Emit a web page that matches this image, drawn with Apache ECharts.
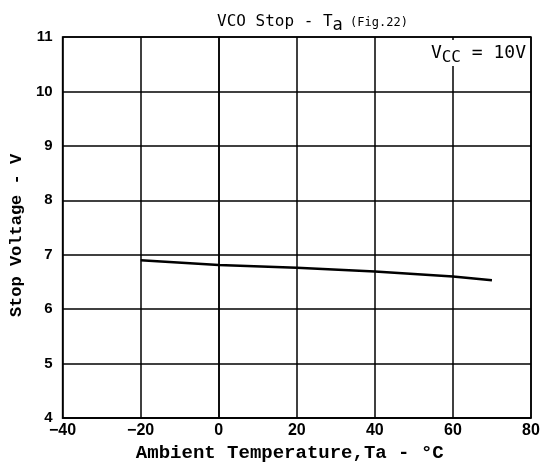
<!DOCTYPE html>
<html>
<head>
<meta charset="utf-8">
<script src="https://cdn.jsdelivr.net/npm/echarts@6/dist/echarts.min.js"></script>
<style>
  html, body { margin: 0; padding: 0; background: #fff; }
  #chart { width: 544px; height: 470px; }
</style>
</head>
<body>
<div id="chart"></div>
<script>
// temperature (°C) vs stop voltage (V)
const temps = [-20, 0, 20, 40, 60, 70];
const stopVoltage = [6.9, 6.81, 6.76, 6.69, 6.6, 6.53];
const xTicks = [-40, -20, 0, 20, 40, 60, 80];
const yTicks = [4, 5, 6, 7, 8, 9, 10, 11];

const chart = echarts.init(document.getElementById('chart'));

const mono = '"DejaVu Sans Mono", "Liberation Mono", monospace';
const slab = '"Liberation Mono", "DejaVu Sans Mono", monospace';
const gridLine = { lineStyle: { color: '#000', width: 1.5 } };

chart.setOption({
    animation: false,
    title: {
        text: '{m|VCO Stop - T}{s|a}{f| (Fig.22)}',
        left: 212,
        top: 4,
        textStyle: {
            rich: {
                m: { fontFamily: mono, fontSize: 16, fontWeight: 'normal', color: '#000' },
                s: { fontFamily: mono, fontSize: 17, fontWeight: 'normal', color: '#000', padding: [8, 0, 0, 0] },
                f: { fontFamily: mono, fontSize: 12, fontWeight: 'normal', color: '#000', padding: [3, 0, 0, 0] }
            }
        }
    },
    grid: {
        left: 62, right: 13, top: 37, bottom: 52,
        show: true, borderColor: '#000', borderWidth: 1.5
    },
    xAxis: {
        type: 'value',
        min: xTicks[0],
        max: xTicks[xTicks.length - 1],
        interval: 20,
        name: 'Ambient Temperature,Ta - °C',
        nameLocation: 'middle',
        nameGap: 20,
        nameTextStyle: { fontFamily: slab, fontWeight: 'bold', fontSize: 19, color: '#000', padding: [0, 14, 0, 0] },
        axisLine: gridLine,
        axisTick: { show: false },
        splitLine: { show: true, lineStyle: { color: '#000', width: 1.5 } },
        axisLabel: {
            color: '#000', fontSize: 16, fontWeight: 'bold',
            fontFamily: '"Liberation Sans", Arial, sans-serif', margin: 5,
            formatter: v => (v < 0 ? '\u2212' + Math.abs(v) : '' + v)
        }
    },
    yAxis: {
        type: 'value',
        min: yTicks[0],
        max: yTicks[yTicks.length - 1],
        interval: 1,
        name: 'Stop Voltage - V',
        nameLocation: 'middle',
        nameGap: 30,
        nameTextStyle: { fontFamily: slab, fontWeight: 'bold', fontSize: 17, color: '#000', padding: [0, 16, 0, 0] },
        axisLine: gridLine,
        axisTick: { show: false },
        splitLine: { show: true, lineStyle: { color: '#000', width: 1.5 } },
        axisLabel: {
            color: '#000', fontSize: 15, fontWeight: 'bold',
            fontFamily: '"Liberation Sans", Arial, sans-serif', margin: 10
        }
    },
    series: [{
        type: 'line',
        data: temps.map((t, i) => [t, stopVoltage[i]]),
        showSymbol: false,
        lineStyle: { color: '#000', width: 2.5 }
    }],
    graphic: [{
        type: 'text',
        right: 16,
        top: 40,
        z: 100,
        style: {
            text: '{v|V}{s|CC}{v| = 10V}',
            backgroundColor: '#fff',
            padding: [0, 2, 0, 2],
            rich: {
                v: { fontFamily: mono, fontSize: 18, color: '#000' },
                s: { fontFamily: mono, fontSize: 16, color: '#000', padding: [10, 0, 0, 0] }
            }
        }
    }]
});
</script>
</body>
</html>
